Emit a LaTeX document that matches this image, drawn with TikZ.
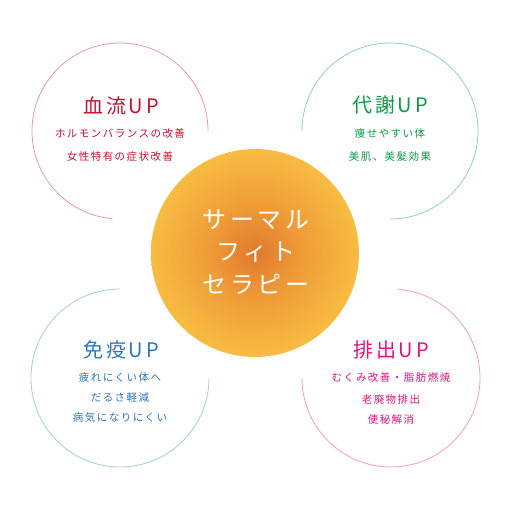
\documentclass[tikz,border=0pt]{standalone}
\usepackage{fontspec}
\setmainfont{Noto Sans CJK JP}
\definecolor{cRed}{HTML}{C8102E}
\definecolor{cRedL}{HTML}{E99AAA}
\definecolor{cGrn}{HTML}{109A48}
\definecolor{cGrnL}{HTML}{8FD5B0}
\definecolor{cBlu}{HTML}{2B78BD}
\definecolor{cBluL}{HTML}{A9CBEA}
\definecolor{cMag}{HTML}{E2127E}
\definecolor{cMagL}{HTML}{F29CCF}
\definecolor{sunA}{HTML}{E1792D}
\definecolor{sunB}{HTML}{EE9B37}
\definecolor{sunC}{HTML}{F8BC42}
\pgfdeclareradialshading{sunball}{\pgfpoint{0bp}{0bp}}{color(0bp)=(sunA); color(11bp)=(sunB); color(25bp)=(sunC); color(50bp)=(sunC)}
\tikzset{
  ring/.style={line width=0.8pt},
  head/.style={inner sep=0pt, font=\fontsize{20}{22}\selectfont\addfontfeature{LetterSpace=14}},
  sub/.style={inner sep=0pt, font=\fontsize{10.5}{12}\selectfont\addfontfeature{LetterSpace=14}},
  ctext/.style={inner sep=0pt, text=white, font=\fontsize{24}{26}\selectfont\addfontfeature{LetterSpace=14}},
}
\begin{document}
\begin{tikzpicture}[x=1pt,y=-1pt]
\useasboundingbox (0,0) rectangle (507,505);
\fill[white] (0,0) rectangle (507,505);
% outer rings
\coordinate (cTL) at (120,131);
\coordinate (cTR) at (390,131);
\coordinate (cBL) at (120,378);
\coordinate (cBR) at (391,378);
\draw[ring, cRedL] ([shift={(0:88)}]cTL) arc[start angle=0, end angle=-265, radius=88];
\draw[ring, cGrnL] ([shift={(90:88)}]cTR) arc[start angle=90, end angle=-180, radius=88];
\draw[ring, cBluL] ([shift={(-90:89)}]cBL) arc[start angle=-90, end angle=-360, radius=89];
\draw[ring, cMagL] ([shift={(-180:89)}]cBR) arc[start angle=-180, end angle=-445, radius=89];
% central ball
\shade[shading=sunball] (255,253) circle[radius=104];
\node[ctext] (c1) at (256,220) {サーマル};
\node[ctext] (c2) at (256,252) {フィト};
\node[ctext] (c3) at (256,284) {セラピー};
% top left
\node[head, text=cRed] (h1) at (121,106) {血流UP};
\node[sub, text=cRed] (h1a) at (120,134) {ホルモンバランスの改善};
\node[sub, text=cRed] (h1b) at (120,157) {女性特有の症状改善};
% top right
\node[head, text=cGrn] (h2) at (390,105) {代謝UP};
\node[sub, text=cGrn] (h2a) at (390,134) {痩せやすい体};
\node[sub, text=cGrn] (h2b) at (390,157) {美肌、美髪効果};
% bottom left
\node[head, text=cBlu] (h3) at (121,350) {免疫UP};
\node[sub, text=cBlu] (h3a) at (120,378) {疲れにくい体へ};
\node[sub, text=cBlu] (h3b) at (120,398) {だるさ軽減};
\node[sub, text=cBlu] (h3c) at (120,418) {病気になりにくい};
% bottom right
\node[head, text=cMag] (h4) at (391,350) {排出UP};
\node[sub, text=cMag] (h4a) at (391,378) {むくみ改善・脂肪燃焼};
\node[sub, text=cMag] (h4b) at (391,400) {老廃物排出};
\node[sub, text=cMag] (h4c) at (391,420) {便秘解消};
\end{tikzpicture}
\end{document}
